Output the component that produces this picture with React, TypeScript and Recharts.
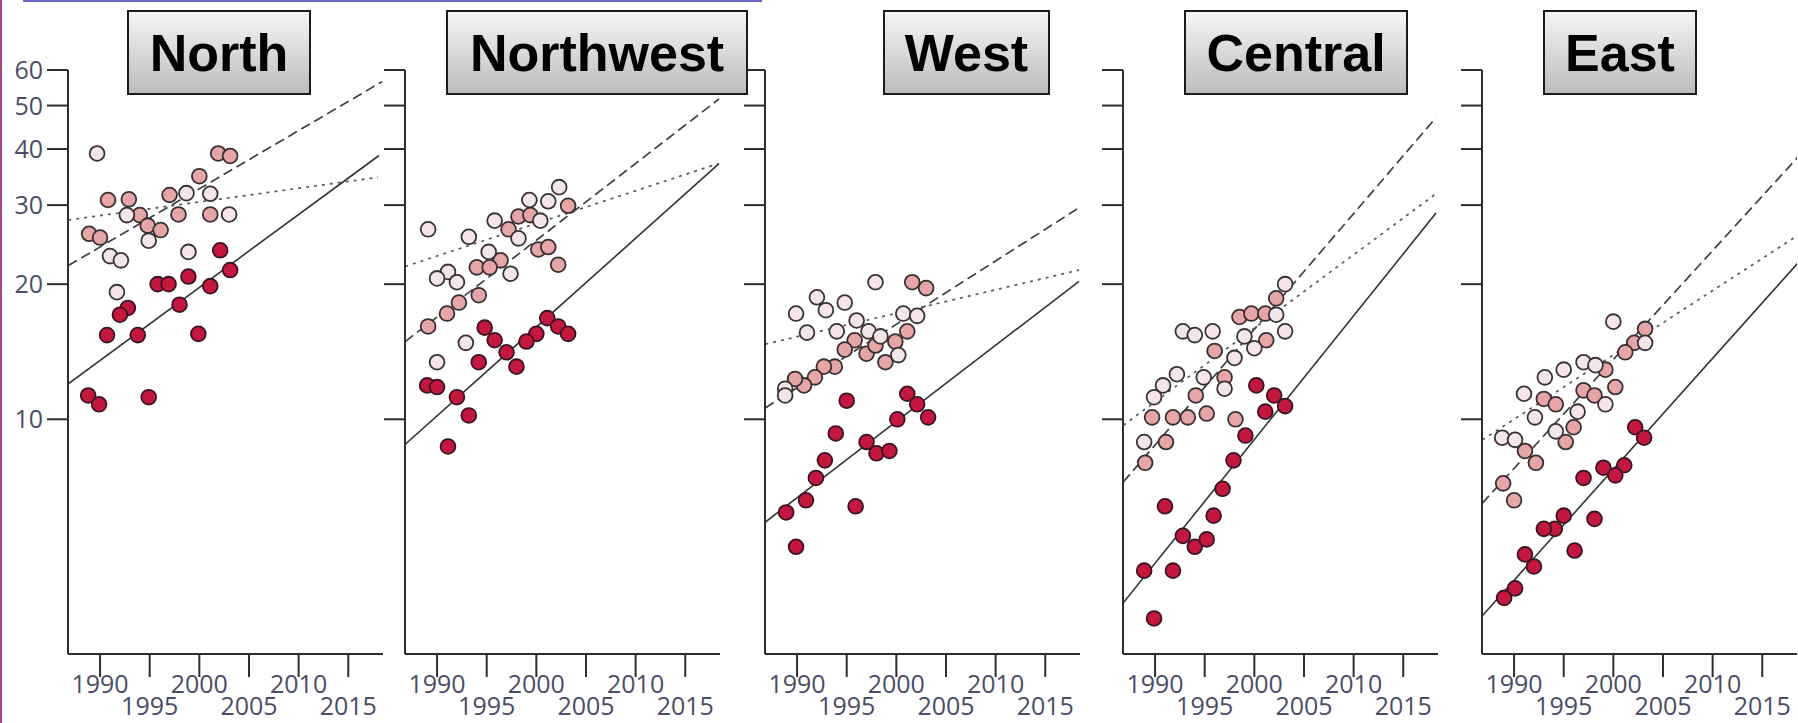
import { ComposedChart, Scatter, Line, XAxis, YAxis } from "recharts"

type Pt = [number, number] // [year, value]

// ---- North ----
const northLight: Pt[] = [
  [1989.7, 39.1], [1992.7, 28.5], [1998.7, 31.9], [2001.1, 31.8], [2003.0, 28.6],
  [1994.9, 25.0], [1991.0, 23.1], [1992.1, 22.6], [1991.7, 19.2], [1998.9, 23.6],
]
const northPink: Pt[] = [
  [2001.9, 39.1], [2003.1, 38.6], [2000.0, 34.8], [1997.0, 31.6], [1990.8, 30.8],
  [1992.9, 30.9], [1994.0, 28.5], [1997.9, 28.6], [2001.1, 28.6], [1988.9, 25.9],
  [1990.0, 25.4], [1994.8, 27.0], [1996.1, 26.4],
]
const northDark: Pt[] = [
  [2002.1, 23.8], [2003.1, 21.5], [1998.9, 20.8], [1995.8, 20.0], [1996.9, 20.0],
  [2001.1, 19.8], [1998.0, 18.0], [1992.8, 17.7], [1992.0, 17.1], [1990.7, 15.4],
  [1993.8, 15.4], [1999.9, 15.5], [1988.8, 11.3], [1989.9, 10.8], [1994.9, 11.2],
]
const northDashed: Pt[] = [[1986.8, 22.0], [2018.4, 56.5]]
const northDotted: Pt[] = [[1986.8, 27.8], [2018.0, 34.6]]
const northSolid: Pt[] = [[1986.8, 12.0], [2018.1, 38.7]]

// ---- Northwest ----
const nwLight: Pt[] = [
  [1989.1, 26.5], [1993.2, 25.5], [2002.3, 32.9], [1999.3, 30.8], [2001.2, 30.6],
  [2000.4, 27.7], [1995.8, 27.7], [1998.2, 25.3], [1995.2, 23.6], [1991.1, 21.3],
  [1990.0, 20.6], [1992.0, 20.2], [1997.4, 21.1], [1990.0, 13.4], [1992.9, 14.8],
]
const nwPink: Pt[] = [
  [2003.2, 29.9], [1998.2, 28.3], [1999.4, 28.5], [1997.2, 26.5], [2000.2, 23.9],
  [2001.2, 24.2], [2002.2, 22.1], [1996.4, 22.6], [1994.0, 21.8], [1995.3, 21.8],
  [1994.2, 18.9], [1992.2, 18.2], [1991.0, 17.2], [1989.1, 16.1],
]
const nwDark: Pt[] = [
  [2001.1, 16.8], [2002.2, 16.1], [2003.2, 15.5], [2000.0, 15.5], [1999.0, 14.9],
  [1994.8, 16.0], [1995.8, 15.0], [1997.0, 14.1], [1998.0, 13.1], [1994.2, 13.4],
  [1989.0, 11.9], [1990.0, 11.8], [1992.0, 11.2], [1993.2, 10.2], [1991.1, 8.7],
]
const nwDashed: Pt[] = [[1986.8, 14.9], [2018.4, 51.7]]
const nwDotted: Pt[] = [[1986.8, 21.9], [2018.3, 37.1]]
const nwSolid: Pt[] = [[1986.8, 8.8], [2018.4, 37.1]]

// ---- West ----
const westLight: Pt[] = [
  [1997.9, 20.2], [1992.0, 18.7], [1992.9, 17.5], [1989.9, 17.2], [1994.8, 18.2],
  [1991.0, 15.6], [1996.0, 16.6], [2000.7, 17.2], [2002.1, 17.0], [1994.0, 15.7],
  [1997.2, 15.7], [1998.4, 15.3], [2000.2, 13.9], [1988.8, 11.7], [1988.8, 11.3],
]
const westPink: Pt[] = [
  [2001.6, 20.2], [2003.0, 19.6], [2001.1, 15.7], [1999.9, 14.9], [1995.8, 15.0],
  [1997.0, 14.0], [1998.9, 13.4], [1994.8, 14.3], [1993.8, 13.1], [1992.7, 13.1],
  [1991.8, 12.4], [1990.7, 11.9], [1989.8, 12.3], [1997.9, 14.6],
]
const westDark: Pt[] = [
  [2001.1, 11.4], [2002.1, 10.8], [2003.2, 10.1], [2000.1, 10.0], [1995.0, 11.0],
  [1993.9, 9.3], [1997.0, 8.9], [1998.0, 8.4], [1999.3, 8.5], [1992.8, 8.1],
  [1991.9, 7.4], [1990.9, 6.6], [1988.9, 6.2], [1995.9, 6.4], [1989.9, 5.2],
]
const westDashed: Pt[] = [[1986.8, 10.6], [2018.4, 29.6]]
const westDotted: Pt[] = [[1986.8, 14.7], [2018.4, 21.5]]
const westSolid: Pt[] = [[1986.8, 5.9], [2018.4, 20.3]]

// ---- Central ----
const centralLight: Pt[] = [
  [2003.1, 20.0], [1992.8, 15.7], [1994.0, 15.4], [1995.8, 15.7], [2003.1, 15.7],
  [1999.0, 15.3], [2000.0, 14.4], [1998.0, 13.7], [1992.2, 12.6], [1994.9, 12.4],
  [1990.8, 11.9], [1989.9, 11.2], [1997.0, 11.7], [1988.9, 8.9], [2002.2, 17.1],
]
const centralPink: Pt[] = [
  [2002.2, 18.6], [1998.5, 16.9], [1999.7, 17.2], [2001.1, 17.2], [2001.2, 15.0],
  [1996.0, 14.2], [1997.0, 12.4], [1994.1, 11.3], [1989.7, 10.1], [1991.8, 10.1],
  [1993.3, 10.1], [1995.2, 10.3], [1998.1, 10.0], [1991.1, 8.9], [1989.0, 8.0],
]
const centralDark: Pt[] = [
  [2000.2, 11.9], [2002.0, 11.3], [2003.1, 10.7], [2001.1, 10.4], [1999.1, 9.2],
  [1997.9, 8.1], [1996.8, 7.0], [1995.9, 6.1], [1991.0, 6.4], [1992.8, 5.5],
  [1994.0, 5.2], [1995.2, 5.4], [1988.9, 4.6], [1991.8, 4.6], [1989.9, 3.6],
]
const centralDashed: Pt[] = [[1986.8, 7.25], [2018.3, 47.0]]
const centralDotted: Pt[] = [[1986.8, 9.7], [2018.3, 31.8]]
const centralSolid: Pt[] = [[1986.8, 3.9], [2018.3, 28.8]]

// ---- East ----
const eastLight: Pt[] = [
  [2000.0, 16.5], [1997.0, 13.4], [1998.2, 13.2], [1995.0, 12.9], [1993.1, 12.4],
  [1991.0, 11.4], [2003.2, 14.8], [1999.2, 10.8], [1996.4, 10.4], [1992.1, 10.1],
  [1994.2, 9.4], [1988.8, 9.1], [1990.1, 9.0],
]
const eastPink: Pt[] = [
  [2003.2, 15.9], [2002.1, 14.8], [2001.2, 14.1], [1999.2, 12.9], [2000.2, 11.8],
  [1997.0, 11.6], [1998.1, 11.3], [1993.0, 11.1], [1994.2, 10.8], [1996.0, 9.6],
  [1995.2, 8.9], [1991.1, 8.5], [1992.2, 8.0], [1988.9, 7.2], [1990.0, 6.6],
]
const eastDark: Pt[] = [
  [2002.2, 9.6], [2003.1, 9.1], [2001.1, 7.9], [1999.0, 7.8], [2000.2, 7.5],
  [1997.0, 7.4], [1995.0, 6.1], [1998.1, 6.0], [1994.1, 5.7], [1993.0, 5.7],
  [1991.1, 5.0], [1992.0, 4.7], [1996.1, 5.1], [1990.1, 4.2], [1989.0, 4.0],
]
const eastDashed: Pt[] = [[1986.8, 6.5], [2018.6, 38.4]]
const eastDotted: Pt[] = [[1986.8, 9.0], [2018.6, 25.7]]
const eastSolid: Pt[] = [[1986.8, 3.65], [2018.6, 22.3]]

const regions = ["North", "Northwest", "West", "Central", "East"]
const yearTicks = [1990, 1995, 2000, 2005, 2010, 2015]
const valueTicks = [10, 20, 30, 40, 50, 60]

const panelData = [
  { light: northLight, pink: northPink, dark: northDark, dashed: northDashed, dotted: northDotted, solid: northSolid },
  { light: nwLight, pink: nwPink, dark: nwDark, dashed: nwDashed, dotted: nwDotted, solid: nwSolid },
  { light: westLight, pink: westPink, dark: westDark, dashed: westDashed, dotted: westDotted, solid: westSolid },
  { light: centralLight, pink: centralPink, dark: centralDark, dashed: centralDashed, dotted: centralDotted, solid: centralSolid },
  { light: eastLight, pink: eastPink, dark: eastDark, dashed: eastDashed, dotted: eastDotted, solid: eastSolid },
]

// layout (pixels)
const axisLefts = [68, 405, 765, 1123, 1482]
const titleBoxes = [
  { left: 127, width: 184 },
  { left: 446, width: 302 },
  { left: 883, width: 167 },
  { left: 1184, width: 224 },
  { left: 1543, width: 154 },
]
const W = 1798
const H = 723
const PLOT_W = 315
const AXIS_W = 60
const TOP = 70
const AXIS_H = 69

const LABEL_FONT = "'Open Sans', 'DejaVu Sans', sans-serif"
const LABEL_COLOR = "#4a4d66"

const toRows = (pts: Pt[]) => pts.map(([year, v]) => ({ year, v }))

const dot = (fill: string, stroke: string) => (p: any) => (
  <circle cx={p.cx} cy={p.cy} r={7.4} fill={fill} stroke={stroke} strokeWidth={1.8} />
)

// x labels alternate between two rows, as in the original figure
function YearTick(props: any) {
  const { x, y, payload } = props
  const lower = payload.value % 10 === 5
  return (
    <text x={x} y={y + (lower ? 38 : 16)} textAnchor="middle" fontFamily={LABEL_FONT} fontSize={25} fill={LABEL_COLOR}>
      {payload.value}
    </text>
  )
}

function ValueTick(props: any) {
  const { x, y, payload } = props
  return (
    <text x={x} y={y + 9} textAnchor="end" fontFamily={LABEL_FONT} fontSize={25} fill={LABEL_COLOR}>
      {payload.value}
    </text>
  )
}

const NoTick = () => <g />

function Panel({ idx }: { idx: number }) {
  const d = panelData[idx]
  return (
    <div style={{ position: "absolute", left: axisLefts[idx] - AXIS_W, top: 0 }}>
      <ComposedChart width={AXIS_W + PLOT_W + 2} height={H} margin={{ top: TOP, right: 2, bottom: 0, left: 0 }}>
        <XAxis
          type="number"
          dataKey="year"
          domain={[1986.77, 2018.5]}
          allowDataOverflow
          ticks={yearTicks}
          interval={0}
          height={AXIS_H}
          tickSize={23}
          tickMargin={0}
          stroke="#2e2e2e"
          strokeWidth={2}
          tick={<YearTick />}
        />
        <YAxis
          type="number"
          dataKey="v"
          scale="log"
          domain={[3, 60]}
          allowDataOverflow
          ticks={valueTicks}
          interval={0}
          width={AXIS_W}
          tickSize={21}
          tickMargin={4}
          stroke="#2e2e2e"
          strokeWidth={2}
          tick={idx === 0 ? <ValueTick /> : <NoTick />}
        />
        <Scatter data={toRows(d.dark)} shape={dot("#c4173f", "#3a1420")} isAnimationActive={false} />
        <Scatter data={toRows(d.pink)} shape={dot("#e6a6a8", "#383030")} isAnimationActive={false} />
        <Scatter data={toRows(d.light)} shape={dot("#f4e6e8", "#383232")} isAnimationActive={false} />
        <Line data={toRows(d.dashed)} dataKey="v" stroke="#404040" strokeWidth={1.7} strokeDasharray="10 5" dot={false} activeDot={false} isAnimationActive={false} />
        <Line data={toRows(d.dotted)} dataKey="v" stroke="#5a5a5a" strokeWidth={1.7} strokeDasharray="3 5" dot={false} activeDot={false} isAnimationActive={false} />
        <Line data={toRows(d.solid)} dataKey="v" stroke="#333" strokeWidth={1.6} dot={false} activeDot={false} isAnimationActive={false} />
      </ComposedChart>
    </div>
  )
}

export default function App() {
  return (
    <div style={{ position: "absolute", left: 0, top: 0, width: W, height: H, overflow: "hidden", background: "#fff" }}>
      {regions.map((_, i) => (
        <Panel key={i} idx={i} />
      ))}
      {regions.map((name, i) => (
        <div
          key={name}
          style={{
            position: "absolute",
            top: 10,
            left: titleBoxes[i].left,
            width: titleBoxes[i].width,
            height: 85,
            boxSizing: "border-box",
            border: "2px solid #1c1c1c",
            background: "linear-gradient(#f6f6f6, #bcbcbc)",
            display: "flex",
            alignItems: "center",
            justifyContent: "center",
            fontFamily: "'Liberation Sans', Arial, sans-serif",
            fontWeight: 700,
            fontSize: 52,
            color: "#000",
          }}
        >
          {name}
        </div>
      ))}
      <div style={{ position: "absolute", left: 23, top: 0, width: 739, height: 2, background: "#6b6bc0" }} />
      <div style={{ position: "absolute", left: 0, top: 0, width: 2, height: H, background: "#a84a88" }} />
    </div>
  )
}
